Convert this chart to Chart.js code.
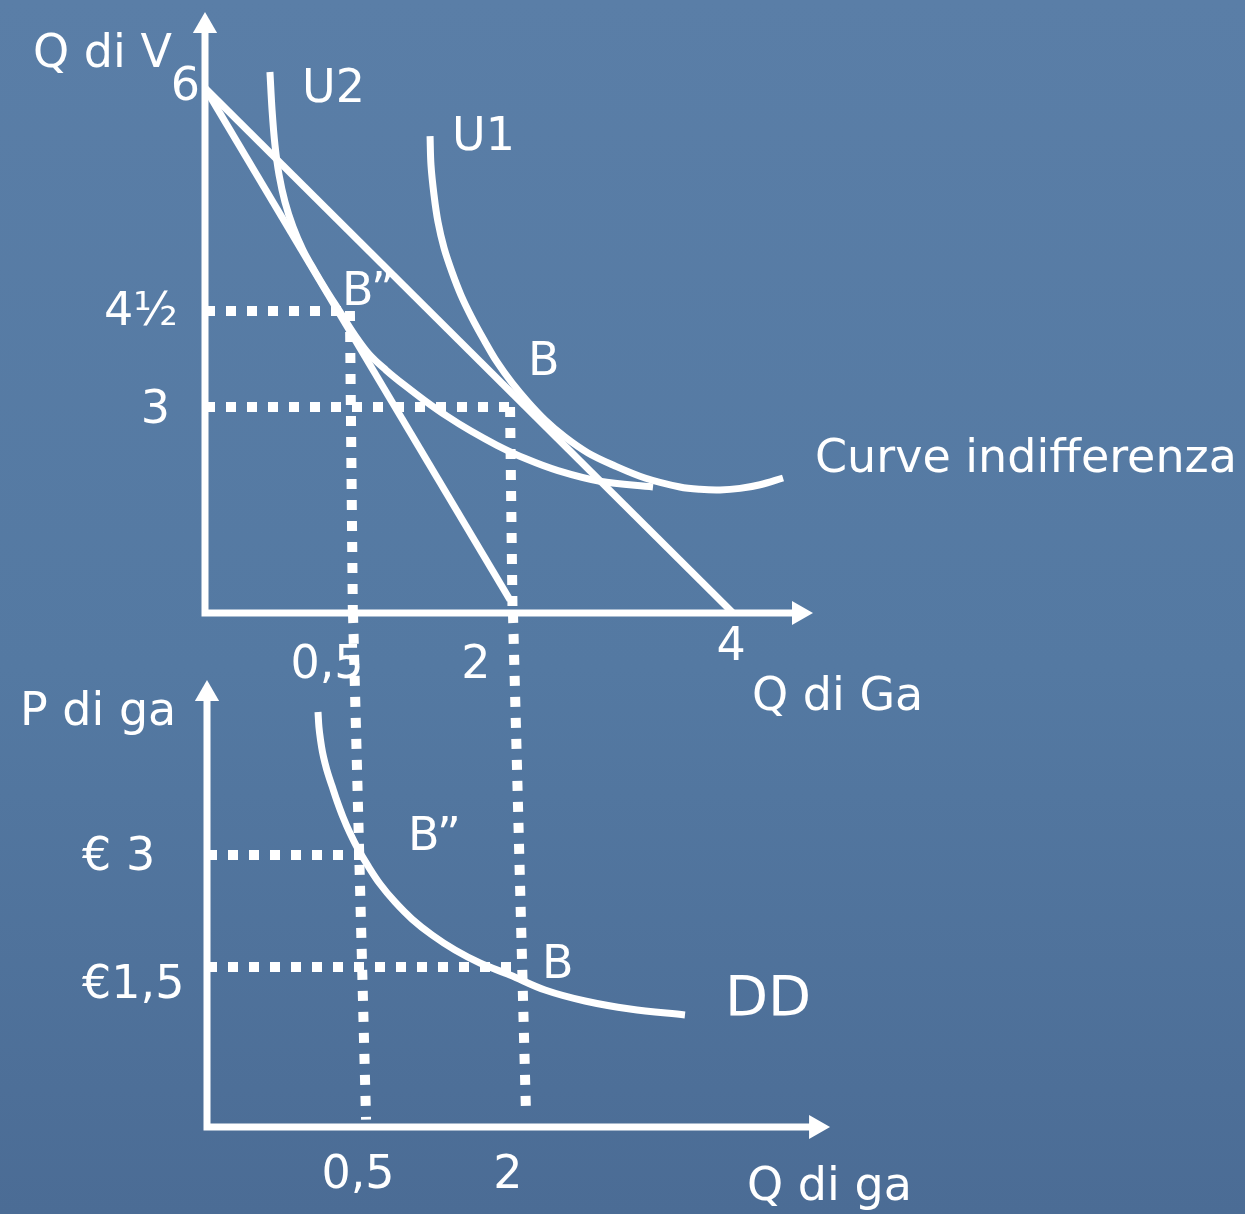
<!DOCTYPE html>
<html lang="it">
<head>
<meta charset="utf-8">
<title>Curve di indifferenza e domanda</title>
<script src="https://cdn.jsdelivr.net/npm/chart.js@4.4.1/dist/chart.umd.min.js"></script>
<style>
  html, body { margin: 0; padding: 0; }
  body {
    width: 1245px; height: 1214px; overflow: hidden; position: relative;
    background: linear-gradient(180deg, #5a7ea7 0%, #5479a2 55%, #4b6c95 100%);
  }
  canvas { position: absolute; left: 0; top: 0; }
</style>
</head>
<body>
<canvas id="chartSopra" width="1245" height="1214"></canvas>
<canvas id="chartSotto" width="1245" height="1214"></canvas>
<script>
// ---- pannello superiore: Q di Ga (x) / Q di V (y), unità del disegno ----
const vincolo1X = [0, 4];
const vincolo1Y = [6, 0];
const vincolo2X = [0, 2.311];
const vincolo2Y = [6, 0.149];

const u2X = [0.492, 0.508, 0.530, 0.561, 0.606, 0.667, 0.742, 0.826, 0.917, 1.023, 1.129,
             1.242, 1.371, 1.515, 1.667, 1.833, 2.015, 2.212, 2.432, 2.674, 2.992, 3.394];
const u2Y = [6.183, 5.749, 5.349, 5.006, 4.697, 4.411, 4.149, 3.920, 3.691, 3.440, 3.189,
             2.960, 2.777, 2.599, 2.425, 2.250, 2.079, 1.917, 1.762, 1.627, 1.506, 1.440];

const u1X = [1.705, 1.712, 1.735, 1.765, 1.811, 1.871, 1.939, 2.023, 2.114, 2.212, 2.326, 2.447,
             2.576, 2.727, 2.902, 3.091, 3.333, 3.598, 3.750, 3.902, 4.053, 4.205, 4.379];
const u1Y = [5.451, 5.120, 4.777, 4.469, 4.171, 3.897, 3.634, 3.371, 3.120, 2.869, 2.629, 2.411,
             2.206, 2.011, 1.829, 1.691, 1.543, 1.440, 1.413, 1.406, 1.424, 1.466, 1.543];

// punti B'' e B sul pannello superiore
const puntoB2 = { x: 1.098, y: 3.451 };   // 4½
const puntoB = { x: 2.311, y: 2.354 };    // 3

const tickSopraX = [{ v: 0.924, t: '0,5' }, { v: 2.053, t: '2' }, { v: 3.985, t: '4' }];
const tickSopraY = [{ v: 5.863, t: '6' }, { v: 3.291, t: '4½' }, { v: 2.171, t: '3' }];

// ---- pannello inferiore: Q di ga (x) / P di ga (y) ----
const ddX = [0.841, 0.848, 0.860, 0.875, 0.894, 0.917, 0.947, 0.985, 1.030, 1.083, 1.144, 1.220,
             1.311, 1.424, 1.553, 1.705, 1.879, 2.068, 2.295, 2.561, 2.864, 3.205, 3.621];
const ddY = [4.576, 4.410, 4.267, 4.134, 4.013, 3.892, 3.760, 3.594, 3.418, 3.241, 3.065, 2.878,
             2.679, 2.481, 2.293, 2.117, 1.951, 1.808, 1.676, 1.510, 1.389, 1.301, 1.235];

const prezzoAlto = { x: 1.174, y: 3.0 };    // € 3
const prezzoBasso = { x: 2.36, y: 1.764 };  // €1,5

const tickSottoX = [{ v: 1.144, t: '0,5' }, { v: 2.280, t: '2' }];
const tickSottoY = [{ v: 2.834, t: '€ 3' }, { v: 1.422, t: '€1,5' }];

const BIANCO = '#ffffff';
const FONT = '"DejaVu Sans", Verdana, sans-serif';

function punti(xs, ys) {
    return xs.map((x, i) => ({ x: x, y: ys[i] }));
}

function linea(data, extra) {
    return Object.assign({
        data: data,
        showLine: true,
        borderColor: BIANCO,
        borderWidth: 7,
        pointRadius: 0,
        pointHoverRadius: 0,
        fill: false,
        clip: false,
        borderJoinStyle: 'miter'
    }, extra || {});
}

function tratteggio(data) {
    return linea(data, { borderWidth: 10, borderDash: [10, 11], borderCapStyle: 'butt', tension: 0 });
}

function freccia(x, y, rot) {
    return {
        data: [{ x: x, y: y }],
        showLine: false,
        pointStyle: 'triangle',
        pointRotation: rot,
        pointRadius: 14,
        pointHoverRadius: 14,
        pointBackgroundColor: BIANCO,
        pointBorderWidth: 0,
        clip: false
    };
}

// plugin per le scritte (posizionate con le scale del grafico)
function testi(items) {
    return {
        id: 'testi',
        afterDatasetsDraw(chart) {
            const ctx = chart.ctx;
            const sx = chart.scales.x;
            const sy = chart.scales.y;
            ctx.save();
            ctx.fillStyle = BIANCO;
            ctx.textBaseline = 'alphabetic';
            items.forEach(t => {
                ctx.font = (t.size || 46) + 'px ' + FONT;
                ctx.textAlign = t.align || 'left';
                ctx.fillText(t.text, sx.getPixelForValue(t.x), sy.getPixelForValue(t.y));
            });
            ctx.restore();
        }
    };
}

function opzioni(padding, xMax, yMax) {
    return {
        responsive: false,
        animation: false,
        events: [],
        layout: { padding: padding, autoPadding: false },
        elements: { line: { tension: 0.35 } },
        scales: {
            x: { type: 'linear', min: 0, max: xMax, display: false },
            y: { type: 'linear', min: 0, max: yMax, display: false }
        },
        plugins: {
            legend: { display: false },
            tooltip: { enabled: false }
        }
    };
}

// Grafico superiore
const testiSopra = [
    { text: 'Q di V', x: -1.303, y: 6.240 },
    { text: 'U2', x: 0.735, y: 5.840 },
    { text: 'U1', x: 1.871, y: 5.291 },
    { text: 'B”', x: 1.038, y: 3.52 },
    { text: 'B', x: 2.447, y: 2.72 },
    { text: 'Curve indifferenza', x: 4.621, y: 1.611 },
    { text: 'Q di Ga', x: 4.144, y: -1.109 }
];
tickSopraX.forEach(t => testiSopra.push({ text: t.t, x: t.v, y: t.t === '4' ? -0.537 : -0.743, align: 'center' }));
tickSopraY.forEach(t => testiSopra.push({ text: t.t, x: t.t === '6' ? -0.038 : (t.t === '3' ? -0.265 : -0.205), y: t.v, align: 'right' }));

new Chart(document.getElementById('chartSopra'), {
    type: 'scatter',
    data: {
        datasets: [
            tratteggio([{ x: 0, y: puntoB2.y }, { x: puntoB2.x, y: puntoB2.y }]),
            tratteggio([{ x: puntoB2.x, y: puntoB2.y }, { x: 1.12, y: 0 }]),
            tratteggio([{ x: 0, y: puntoB.y }, { x: puntoB.x, y: puntoB.y }]),
            tratteggio([{ x: puntoB.x, y: puntoB.y }, { x: 2.33, y: 0 }]),
            linea([{ x: 0, y: 6.709 }, { x: 0, y: 0 }, { x: 4.5, y: 0 }], { tension: 0 }),
            freccia(0, 6.709, 0),
            freccia(4.5, 0, 90),
            linea(punti(vincolo1X, vincolo1Y), { tension: 0 }),
            linea(punti(vincolo2X, vincolo2Y), { tension: 0 }),
            linea(punti(u2X, u2Y)),
            linea(punti(u1X, u1Y))
        ]
    },
    options: opzioni({ left: 205, right: 0, top: 0, bottom: 601 }, 1040 / 132, 613 / 87.5),
    plugins: [testi(testiSopra)]
});

// Grafico inferiore (domanda DD)
const testiSotto = [
    { text: 'P di ga', x: -1.417, y: 4.432 },
    { text: 'B”', x: 1.523, y: 3.054 },
    { text: 'B', x: 2.538, y: 1.643 },
    { text: 'DD', x: 3.924, y: 1.235, size: 56 },
    { text: 'Q di ga', x: 4.091, y: -0.805 }
];
tickSottoX.forEach(t => testiSotto.push({ text: t.t, x: t.v, y: -0.673, align: 'center' }));
tickSottoY.forEach(t => testiSotto.push({ text: t.t, x: -0.947, y: t.v }));

new Chart(document.getElementById('chartSotto'), {
    type: 'scatter',
    data: {
        datasets: [
            tratteggio([{ x: 0, y: prezzoAlto.y }, { x: prezzoAlto.x, y: prezzoAlto.y }]),
            tratteggio([{ x: 0, y: prezzoBasso.y }, { x: prezzoBasso.x, y: prezzoBasso.y }]),
            tratteggio([{ x: 1.106, y: 5.667 }, { x: 1.205, y: 0.08 }]),
            tratteggio([{ x: 2.318, y: 5.667 }, { x: 2.417, y: 0.13 }]),
            linea([{ x: 0, y: 4.774 }, { x: 0, y: 0 }, { x: 4.614, y: 0 }], { tension: 0 }),
            freccia(0, 4.774, 0),
            freccia(4.614, 0, 90),
            linea(punti(ddX, ddY))
        ]
    },
    options: opzioni({ left: 207, right: 0, top: 0, bottom: 87 }, 1038 / 132, 1127 / 90.7),
    plugins: [testi(testiSotto)]
});
</script>
</body>
</html>
